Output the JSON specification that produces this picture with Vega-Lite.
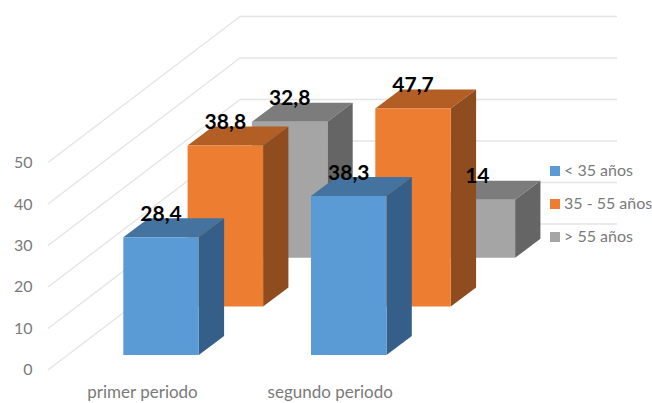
{
  "$schema": "https://vega.github.io/schema/vega-lite/v6.json",
  "width": 612,
  "height": 378,
  "padding": {"left": 40, "top": 0, "right": 0, "bottom": 25},
  "autosize": "none",
  "background": "white",
  "config": {
    "view": {"stroke": null},
    "font": "Lato",
    "axis": {"title": null, "grid": false, "domain": false, "ticks": false, "labelColor": "#7a7a7a", "labelFont": "Lato"},
    "legend": {"title": null}
  },
  "datasets": {
    "niveles": [{"nivel": 0}, {"nivel": 10}, {"nivel": 20}, {"nivel": 30}, {"nivel": 40}, {"nivel": 50}],
    "barras": [
      {"periodo": "primer periodo", "grupo": "< 35 años", "valor": 28.4},
      {"periodo": "primer periodo", "grupo": "35 - 55 años", "valor": 38.8},
      {"periodo": "primer periodo", "grupo": "> 55 años", "valor": 32.8},
      {"periodo": "segundo periodo", "grupo": "< 35 años", "valor": 38.3},
      {"periodo": "segundo periodo", "grupo": "35 - 55 años", "valor": 47.7},
      {"periodo": "segundo periodo", "grupo": "> 55 años", "valor": 14}
    ]
  },
  "layer": [
    {
      "data": {"name": "niveles"},
      "transform": [
        {"calculate": "-0.5008", "as": "xFrente"},
        {"calculate": "0.5221", "as": "xFondo"},
        {"calculate": "datum.nivel + 35.18", "as": "nivelFondo"}
      ],
      "mark": {"type": "rule", "color": "#e4e4e4", "strokeWidth": 1.3},
      "encoding": {
        "x": {
          "field": "xFrente",
          "type": "quantitative",
          "scale": {"domain": [-0.5434, 2.7171], "nice": false, "zero": false},
          "axis": {
            "title": null, "values": [0, 1],
            "labelExpr": "datum.value === 0 ? 'primer periodo' : 'segundo periodo'",
            "labelFontSize": 17, "labelPadding": 6
          }
        },
        "x2": {"field": "xFondo"},
        "y": {
          "field": "nivel",
          "type": "quantitative",
          "scale": {"domain": [-1.93, 89.16], "nice": false, "zero": false},
          "axis": {
            "title": null, "values": [0, 10, 20, 30, 40, 50],
            "labelFontSize": 16, "labelPadding": 8
          }
        },
        "y2": {"field": "nivelFondo"}
      }
    },
    {
      "data": {"name": "niveles"},
      "transform": [
        {"calculate": "0.5221", "as": "xFondo"},
        {"calculate": "2.5306", "as": "xFin"},
        {"calculate": "datum.nivel + 35.18", "as": "nivelFondo"}
      ],
      "mark": {"type": "rule", "color": "#e4e4e4", "strokeWidth": 1.3},
      "encoding": {
        "x": {"field": "xFondo", "type": "quantitative", "title": null},
        "x2": {"field": "xFin"},
        "y": {"field": "nivelFondo", "type": "quantitative", "title": null}
      }
    },
    {
      "data": {"name": "barras"},
      "transform": [
        {"calculate": "datum.periodo === 'primer periodo' ? 0 : 1", "as": "p"},
        {"calculate": "indexof(['< 35 años', '35 - 55 años', '> 55 años'], datum.grupo)", "as": "s"},
        {"calculate": "datum.p + datum.s * 0.3426 - 0.0996", "as": "xIzq"},
        {"calculate": "datum.xIzq + 0.4022", "as": "xDer"},
        {"calculate": "3.61 + 11.71 * datum.s", "as": "base"},
        {"calculate": "datum.base + datum.valor", "as": "techo"},
        {"calculate": "datum.grupo + ' lado'", "as": "tonoLado"},
        {"calculate": "datum.grupo + ' tope'", "as": "tonoTope"},
        {"calculate": "[0, 1]", "as": "t"},
        {"flatten": ["t"]},
        {"calculate": "datum.xDer + datum.t * 0.1348", "as": "xLado"},
        {"calculate": "datum.base + datum.t * 4.58", "as": "yLadoBajo"},
        {"calculate": "datum.techo + datum.t * 4.58", "as": "yLadoAlto"},
        {"calculate": "datum.xIzq + datum.t * 0.1348", "as": "xTopeIzq"},
        {"calculate": "datum.xIzq + 0.2011", "as": "xCentro"},
        {"calculate": "datum.techo + 5.42", "as": "yEtiqueta"},
        {"calculate": "replace(toString(datum.valor), '.', ',')", "as": "etiqueta"}
      ],
      "layer": [
        {
          "transform": [{"filter": "datum.s === 2"}],
          "mark": {"type": "area", "orient": "horizontal"},
          "encoding": {
            "y": {"field": "yLadoAlto", "type": "quantitative", "title": null},
            "x": {"field": "xTopeIzq", "type": "quantitative", "title": null},
            "x2": {"field": "xLado"},
            "detail": {"field": "periodo"},
            "color": {
              "field": "tonoTope",
              "type": "nominal",
              "title": null,
              "scale": {
                "domain": ["< 35 años", "35 - 55 años", "> 55 años", "< 35 años lado", "35 - 55 años lado", "> 55 años lado", "< 35 años tope", "35 - 55 años tope", "> 55 años tope"],
                "range": ["#5B9BD5", "#ED7D31", "#A5A5A5", "#355F88", "#8F4C1E", "#656565", "#44739F", "#B25E25", "#7C7C7C"]
              }
            }
          }
        },
        {
          "transform": [{"filter": "datum.s === 2"}],
          "mark": {"type": "area", "orient": "vertical"},
          "encoding": {
            "x": {"field": "xLado", "type": "quantitative", "title": null},
            "y": {"field": "yLadoBajo", "type": "quantitative", "title": null},
            "y2": {"field": "yLadoAlto"},
            "detail": {"field": "periodo"},
            "color": {"field": "tonoLado", "type": "nominal", "title": null}
          }
        },
        {
          "transform": [{"filter": "datum.s === 2 && datum.t === 0"}],
          "mark": {"type": "rect"},
          "encoding": {
            "x": {"field": "xIzq", "type": "quantitative", "title": null},
            "x2": {"field": "xDer"},
            "y": {"field": "base", "type": "quantitative", "title": null},
            "y2": {"field": "techo"},
            "color": {"field": "grupo", "type": "nominal", "title": null}
          }
        },
        {
          "transform": [{"filter": "datum.s === 1"}],
          "mark": {"type": "area", "orient": "horizontal"},
          "encoding": {
            "y": {"field": "yLadoAlto", "type": "quantitative", "title": null},
            "x": {"field": "xTopeIzq", "type": "quantitative", "title": null},
            "x2": {"field": "xLado"},
            "detail": {"field": "periodo"},
            "color": {"field": "tonoTope", "type": "nominal", "title": null}
          }
        },
        {
          "transform": [{"filter": "datum.s === 1"}],
          "mark": {"type": "area", "orient": "vertical"},
          "encoding": {
            "x": {"field": "xLado", "type": "quantitative", "title": null},
            "y": {"field": "yLadoBajo", "type": "quantitative", "title": null},
            "y2": {"field": "yLadoAlto"},
            "detail": {"field": "periodo"},
            "color": {"field": "tonoLado", "type": "nominal", "title": null}
          }
        },
        {
          "transform": [{"filter": "datum.s === 1 && datum.t === 0"}],
          "mark": {"type": "rect"},
          "encoding": {
            "x": {"field": "xIzq", "type": "quantitative", "title": null},
            "x2": {"field": "xDer"},
            "y": {"field": "base", "type": "quantitative", "title": null},
            "y2": {"field": "techo"},
            "color": {"field": "grupo", "type": "nominal", "title": null}
          }
        },
        {
          "transform": [{"filter": "datum.s === 0"}],
          "mark": {"type": "area", "orient": "horizontal"},
          "encoding": {
            "y": {"field": "yLadoAlto", "type": "quantitative", "title": null},
            "x": {"field": "xTopeIzq", "type": "quantitative", "title": null},
            "x2": {"field": "xLado"},
            "detail": {"field": "periodo"},
            "color": {"field": "tonoTope", "type": "nominal", "title": null}
          }
        },
        {
          "transform": [{"filter": "datum.s === 0"}],
          "mark": {"type": "area", "orient": "vertical"},
          "encoding": {
            "x": {"field": "xLado", "type": "quantitative", "title": null},
            "y": {"field": "yLadoBajo", "type": "quantitative", "title": null},
            "y2": {"field": "yLadoAlto"},
            "detail": {"field": "periodo"},
            "color": {"field": "tonoLado", "type": "nominal", "title": null}
          }
        },
        {
          "transform": [{"filter": "datum.s === 0 && datum.t === 0"}],
          "mark": {"type": "rect"},
          "encoding": {
            "x": {"field": "xIzq", "type": "quantitative", "title": null},
            "x2": {"field": "xDer"},
            "y": {"field": "base", "type": "quantitative", "title": null},
            "y2": {"field": "techo"},
            "color": {
              "field": "grupo",
              "type": "nominal",
              "title": null,
              "legend": {
                "title": null,
                "values": ["< 35 años", "35 - 55 años", "> 55 años"],
                "orient": "none",
                "legendX": 507,
                "legendY": 163,
                "symbolType": "square",
                "symbolSize": 100,
                "symbolStrokeWidth": 0,
                "labelFontSize": 16,
                "labelColor": "#7a7a7a",
                "labelFont": "Lato",
                "labelOffset": 1,
                "rowPadding": 17,
                "padding": 0
              }
            }
          }
        },
        {
          "transform": [{"filter": "datum.t === 0"}],
          "mark": {"type": "text", "fontWeight": "bold", "fontSize": 21, "color": "#000000", "font": "Lato", "baseline": "middle", "align": "center"},
          "encoding": {
            "x": {"field": "xCentro", "type": "quantitative", "title": null},
            "y": {"field": "yEtiqueta", "type": "quantitative", "title": null},
            "text": {"field": "etiqueta", "type": "nominal"}
          }
        }
      ]
    }
  ]
}
